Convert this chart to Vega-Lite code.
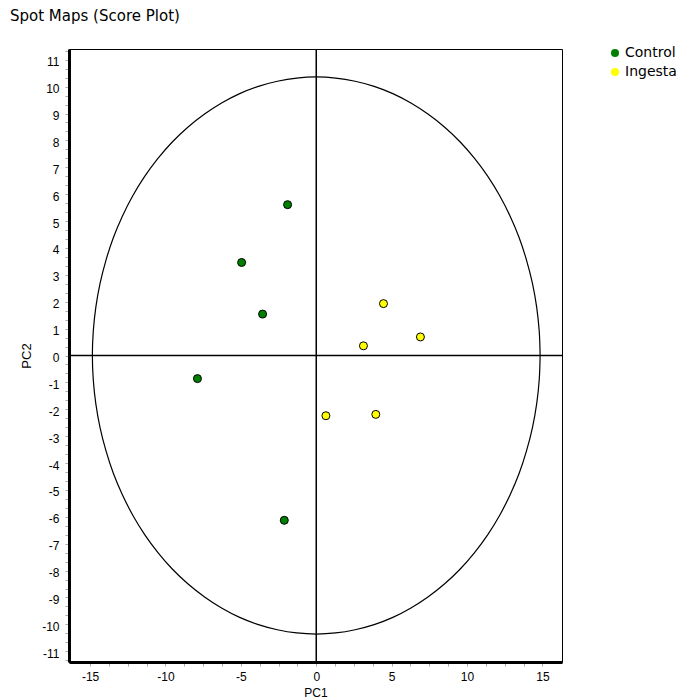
{
  "$schema": "https://vega.github.io/schema/vega-lite/v6.json",
  "width": 493,
  "height": 613,
  "autosize": "none",
  "padding": {"left": 69, "top": 49, "right": 119, "bottom": 38},
  "background": "white",
  "config": {
    "view": {"stroke": "black", "strokeWidth": 1},
    "font": "DejaVu Sans",
    "axis": {"labelOverlap": false}
  },
  "title": {
    "text": "Spot Maps (Score Plot)",
    "anchor": "start",
    "frame": "group",
    "dx": -59,
    "dy": 17,
    "offset": 27,
    "baseline": "alphabetic",
    "font": "DejaVu Sans",
    "fontSize": 15,
    "fontWeight": "normal",
    "color": "#000000"
  },
  "datasets": {
    "scores": [
      {"pc1": -1.9, "pc2": 5.61, "group": "Control"},
      {"pc1": -4.95, "pc2": 3.46, "group": "Control"},
      {"pc1": -3.56, "pc2": 1.54, "group": "Control"},
      {"pc1": -7.88, "pc2": -0.86, "group": "Control"},
      {"pc1": -2.12, "pc2": -6.13, "group": "Control"},
      {"pc1": 4.46, "pc2": 1.93, "group": "Ingesta"},
      {"pc1": 6.91, "pc2": 0.69, "group": "Ingesta"},
      {"pc1": 3.13, "pc2": 0.36, "group": "Ingesta"},
      {"pc1": 0.64, "pc2": -2.24, "group": "Ingesta"},
      {"pc1": 3.95, "pc2": -2.19, "group": "Ingesta"}
    ],
    "ellipse": [
      {"i": 0, "ex": 14.85, "ey": 0},
      {"i": 1, "ex": 14.79, "ey": 0.9},
      {"i": 2, "ex": 14.62, "ey": 1.8},
      {"i": 3, "ex": 14.34, "ey": 2.68},
      {"i": 4, "ex": 13.95, "ey": 3.54},
      {"i": 5, "ex": 13.46, "ey": 4.38},
      {"i": 6, "ex": 12.86, "ey": 5.18},
      {"i": 7, "ex": 12.17, "ey": 5.94},
      {"i": 8, "ex": 11.38, "ey": 6.66},
      {"i": 9, "ex": 10.5, "ey": 7.33},
      {"i": 10, "ex": 9.55, "ey": 7.94},
      {"i": 11, "ex": 8.52, "ey": 8.49},
      {"i": 12, "ex": 7.43, "ey": 8.97},
      {"i": 13, "ex": 6.28, "ey": 9.39},
      {"i": 14, "ex": 5.08, "ey": 9.74},
      {"i": 15, "ex": 3.84, "ey": 10.01},
      {"i": 16, "ex": 2.58, "ey": 10.2},
      {"i": 17, "ex": 1.29, "ey": 10.32},
      {"i": 18, "ex": 0, "ey": 10.36},
      {"i": 19, "ex": -1.29, "ey": 10.32},
      {"i": 20, "ex": -2.58, "ey": 10.2},
      {"i": 21, "ex": -3.84, "ey": 10.01},
      {"i": 22, "ex": -5.08, "ey": 9.74},
      {"i": 23, "ex": -6.28, "ey": 9.39},
      {"i": 24, "ex": -7.43, "ey": 8.97},
      {"i": 25, "ex": -8.52, "ey": 8.49},
      {"i": 26, "ex": -9.55, "ey": 7.94},
      {"i": 27, "ex": -10.5, "ey": 7.33},
      {"i": 28, "ex": -11.38, "ey": 6.66},
      {"i": 29, "ex": -12.17, "ey": 5.94},
      {"i": 30, "ex": -12.86, "ey": 5.18},
      {"i": 31, "ex": -13.46, "ey": 4.38},
      {"i": 32, "ex": -13.95, "ey": 3.54},
      {"i": 33, "ex": -14.34, "ey": 2.68},
      {"i": 34, "ex": -14.62, "ey": 1.8},
      {"i": 35, "ex": -14.79, "ey": 0.9},
      {"i": 36, "ex": -14.85, "ey": 0},
      {"i": 37, "ex": -14.79, "ey": -0.9},
      {"i": 38, "ex": -14.62, "ey": -1.8},
      {"i": 39, "ex": -14.34, "ey": -2.68},
      {"i": 40, "ex": -13.95, "ey": -3.54},
      {"i": 41, "ex": -13.46, "ey": -4.38},
      {"i": 42, "ex": -12.86, "ey": -5.18},
      {"i": 43, "ex": -12.17, "ey": -5.94},
      {"i": 44, "ex": -11.38, "ey": -6.66},
      {"i": 45, "ex": -10.5, "ey": -7.33},
      {"i": 46, "ex": -9.55, "ey": -7.94},
      {"i": 47, "ex": -8.52, "ey": -8.49},
      {"i": 48, "ex": -7.43, "ey": -8.97},
      {"i": 49, "ex": -6.28, "ey": -9.39},
      {"i": 50, "ex": -5.08, "ey": -9.74},
      {"i": 51, "ex": -3.84, "ey": -10.01},
      {"i": 52, "ex": -2.58, "ey": -10.2},
      {"i": 53, "ex": -1.29, "ey": -10.32},
      {"i": 54, "ex": 0, "ey": -10.36},
      {"i": 55, "ex": 1.29, "ey": -10.32},
      {"i": 56, "ex": 2.58, "ey": -10.2},
      {"i": 57, "ex": 3.84, "ey": -10.01},
      {"i": 58, "ex": 5.08, "ey": -9.74},
      {"i": 59, "ex": 6.28, "ey": -9.39},
      {"i": 60, "ex": 7.43, "ey": -8.97},
      {"i": 61, "ex": 8.52, "ey": -8.49},
      {"i": 62, "ex": 9.55, "ey": -7.94},
      {"i": 63, "ex": 10.5, "ey": -7.33},
      {"i": 64, "ex": 11.38, "ey": -6.66},
      {"i": 65, "ex": 12.17, "ey": -5.94},
      {"i": 66, "ex": 12.86, "ey": -5.18},
      {"i": 67, "ex": 13.46, "ey": -4.38},
      {"i": 68, "ex": 13.95, "ey": -3.54},
      {"i": 69, "ex": 14.34, "ey": -2.68},
      {"i": 70, "ex": 14.62, "ey": -1.8},
      {"i": 71, "ex": 14.79, "ey": -0.9},
      {"i": 72, "ex": 14.85, "ey": 0}
    ],
    "origin": [{"v": 0}]
  },
  "layer": [
    {
      "data": {"name": "ellipse"},
      "mark": {"type": "line", "color": "black", "strokeWidth": 1.2, "interpolate": "cardinal"},
      "encoding": {
        "x": {
          "field": "ex", "type": "quantitative",
          "scale": {"domain": [-16.4, 16.3], "nice": false, "zero": false},
          "axis": {
            "title": "PC1",
            "tickCount": 200,
            "values": [-15, -13.75, -12.5, -11.25, -10, -8.75, -7.5, -6.25, -5, -3.75, -2.5, -1.25, 0, 1.25, 2.5, 3.75, 5, 6.25, 7.5, 8.75, 10, 11.25, 12.5, 13.75, 15],
            "labelExpr": "datum.value % 5 === 0 ? '' + datum.value : ''",
            "labelOverlap": false,
            "labelFont": "Liberation Sans",
            "labelFontSize": 12,
            "labelColor": "#000000",
            "labelPadding": 5,
            "grid": false,
            "domainColor": "#000000",
            "domainWidth": 3,
            "tickColor": "#aaaaaa",
            "tickSize": 4,
            "titleFont": "Liberation Sans",
            "titleFontSize": 12,
            "titleFontWeight": "normal",
            "titleColor": "#000000",
            "titlePadding": 5
          }
        },
        "y": {
          "field": "ey", "type": "quantitative",
          "scale": {"domain": [-11.4, 11.4], "nice": false, "zero": false},
          "axis": {
            "title": "PC2",
            "tickCount": 200,
            "values": [-11.3333, -11, -10.6667, -10.3333, -10, -9.6667, -9.3333, -9, -8.6667, -8.3333, -8, -7.6667, -7.3333, -7, -6.6667, -6.3333, -6, -5.6667, -5.3333, -5, -4.6667, -4.3333, -4, -3.6667, -3.3333, -3, -2.6667, -2.3333, -2, -1.6667, -1.3333, -1, -0.6667, -0.3333, 0, 0.3333, 0.6667, 1, 1.3333, 1.6667, 2, 2.3333, 2.6667, 3, 3.3333, 3.6667, 4, 4.3333, 4.6667, 5, 5.3333, 5.6667, 6, 6.3333, 6.6667, 7, 7.3333, 7.6667, 8, 8.3333, 8.6667, 9, 9.3333, 9.6667, 10, 10.3333, 10.6667, 11, 11.3333],
            "labelExpr": "datum.value % 1 === 0 ? '' + datum.value : ''",
            "labelOverlap": false,
            "labelOffset": 2,
            "labelFont": "Liberation Sans",
            "labelFontSize": 12,
            "labelColor": "#000000",
            "labelPadding": 6,
            "grid": false,
            "domainColor": "#000000",
            "domainWidth": 3,
            "tickColor": "#aaaaaa",
            "tickSize": 4,
            "titleFont": "Liberation Sans",
            "titleFontSize": 13,
            "titleFontWeight": "normal",
            "titleColor": "#000000",
            "titlePadding": 8
          }
        },
        "order": {"field": "i", "type": "quantitative"}
      }
    },
    {
      "data": {"name": "origin"},
      "mark": {"type": "rule", "color": "black", "strokeWidth": 1.5},
      "encoding": {"x": {"field": "v", "type": "quantitative"}}
    },
    {
      "data": {"name": "origin"},
      "mark": {"type": "rule", "color": "black", "strokeWidth": 1.5},
      "encoding": {"y": {"field": "v", "type": "quantitative"}}
    },
    {
      "data": {"name": "scores"},
      "mark": {"type": "point", "filled": true, "shape": "circle", "size": 64, "stroke": "black", "strokeWidth": 1, "opacity": 1},
      "encoding": {
        "x": {"field": "pc1", "type": "quantitative"},
        "y": {"field": "pc2", "type": "quantitative"},
        "color": {
          "field": "group", "type": "nominal",
          "scale": {"domain": ["Control", "Ingesta"], "range": ["#008000", "#ffff00"]},
          "legend": {
            "title": null,
            "orient": "none",
            "legendX": 539,
            "legendY": -3,
            "padding": 0,
            "symbolType": "circle",
            "symbolSize": 64,
            "symbolStrokeWidth": 0,
            "symbolOpacity": 1,
            "labelFont": "DejaVu Sans",
            "labelFontSize": 14,
            "labelColor": "#000000",
            "labelOffset": 3,
            "rowPadding": 5
          }
        }
      }
    }
  ]
}
